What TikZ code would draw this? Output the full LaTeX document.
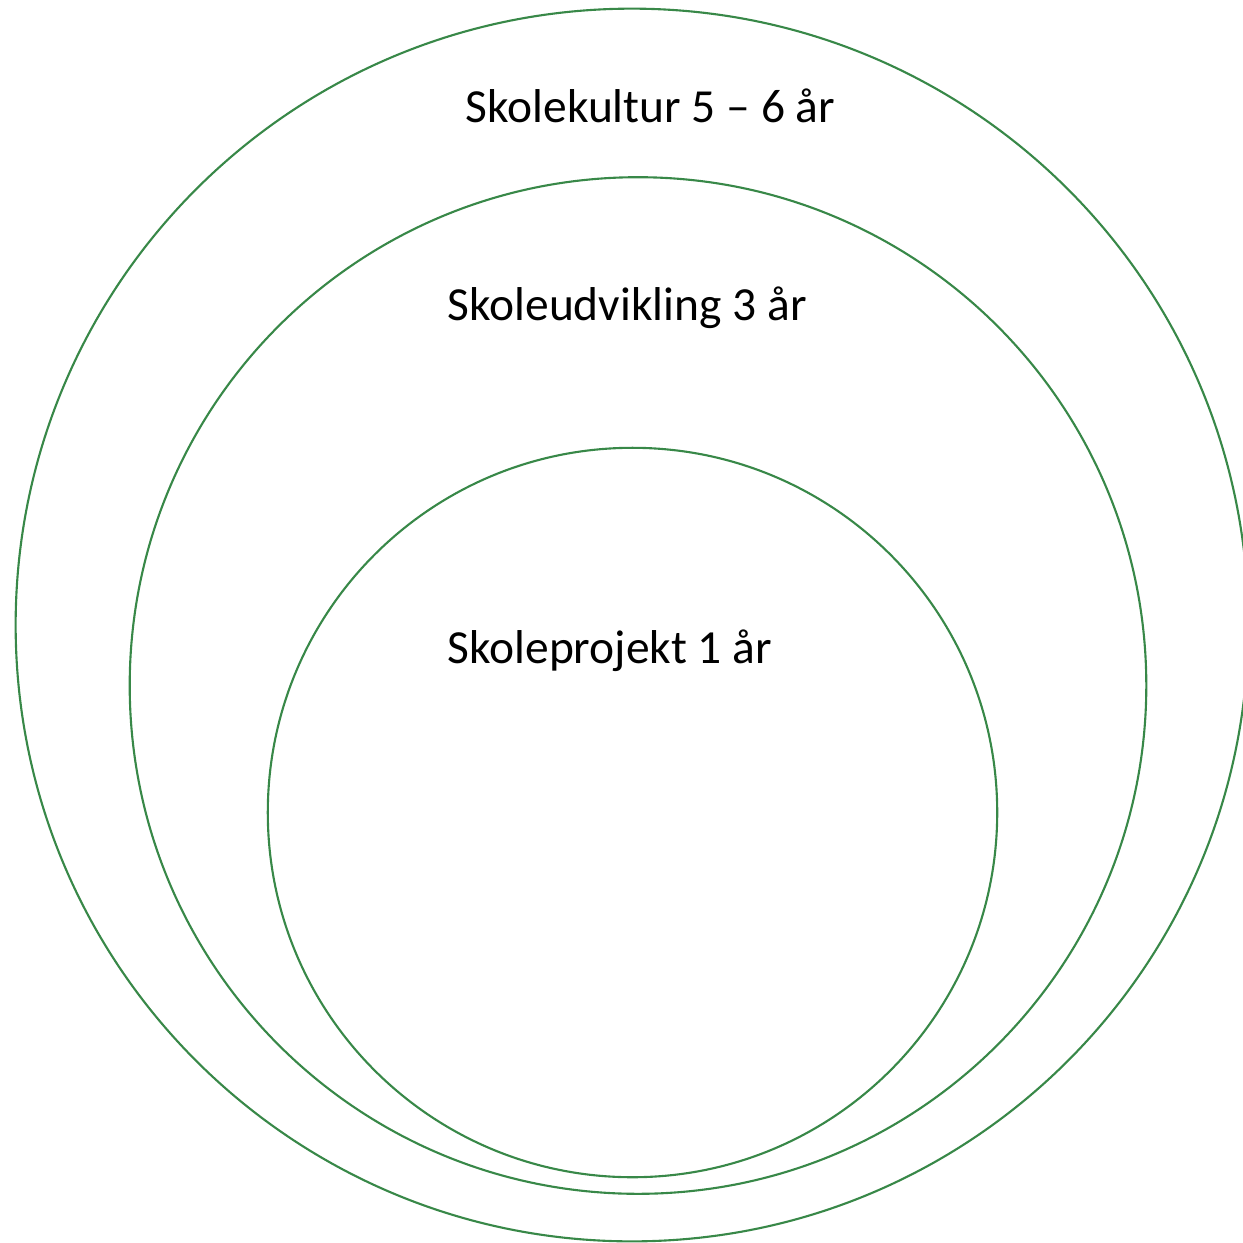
\documentclass[tikz,border=0pt]{standalone}
\usepackage{fontspec}
\setmainfont{Carlito}
\definecolor{ringgreen}{RGB}{56,136,72}

\begin{document}
\begin{tikzpicture}
[x=0.01cm,y=-0.01cm,
ring/.style={shape=circle,draw=ringgreen,line width=0.6pt,inner sep=0pt},
tag/.style={anchor=base west,inner sep=0pt,font=\fontsize{13.5}{16}\selectfont}]

\clip (0,0) rectangle (1243,1242);

% the three rings, outer to inner
\node[ring,minimum size=12.32cm] (kultur) at (632,625) {};
\node[ring,minimum size=10.16cm] (udvikling) at (638,685.5) {};
\node[ring,minimum size=7.29cm] (projekt) at (632.5,812.5) {};

\node[tag] (kulturtxt) at (465,122) {Skolekultur 5 – 6 år};
\node[tag] (udviklingtxt) at (447,320) {Skoleudvikling 3 år};
\node[tag] (projekttxt) at (447,663) {Skoleprojekt 1 år};
\end{tikzpicture}
\end{document}
